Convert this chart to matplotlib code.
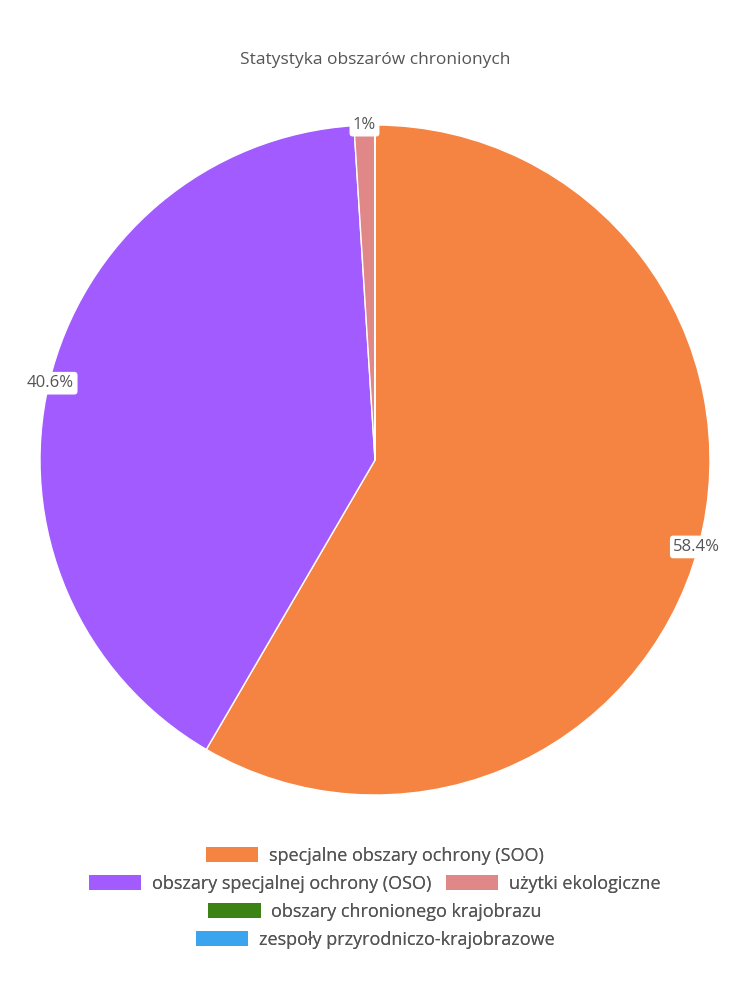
import matplotlib
matplotlib.use("Agg")
import matplotlib.pyplot as plt
import numpy as np
from matplotlib.patches import Patch

categories = ["specjalne obszary ochrony (SOO)", "obszary specjalnej ochrony (OSO)",
              "użytki ekologiczne", "obszary chronionego krajobrazu", "zespoły przyrodniczo-krajobrazowe"]
values = [58.4, 40.6, 1.0, 0.0, 0.0]
labels = ["58.4%", "40.6%", "1%", "", ""]
colors = ["#f58442", "#a15bfe", "#e08788", "#3c8214", "#3aa5ee"]

plt.rcParams['font.family'] = ['Open Sans', 'DejaVu Sans']
fig = plt.figure(figsize=(7.5, 10), dpi=100)
ax = fig.add_axes([0.5 - 335/750, 0.54 - 0.335, 670/750, 0.67])
wedges, _ = ax.pie(values, colors=colors, startangle=90, counterclock=False,
                   wedgeprops=dict(edgecolor="white", linewidth=1))
ax.set_xlim(-1, 1)
ax.set_ylim(-1, 1)
ax.set_aspect("equal")
for w, lab in zip(wedges, labels):
    if not lab:
        continue
    th = np.deg2rad((w.theta1 + w.theta2) / 2)
    r = 0.995 if lab != "1%" else 1.0
    ax.text(r*np.cos(th), r*np.sin(th), lab, ha="center", va="center", fontsize=12,
            color="#555555",
            bbox=dict(boxstyle="round,pad=0.2", fc="white", ec="none"))

fig.text(0.5, 1 - 60/1000, "Statystyka obszarów chronionych", ha="center", va="center",
         fontsize=12.5, color="#555555")

rows = [[0], [1, 2], [3], [4]]
ys = [856, 884, 912, 940]
for row, y in zip(rows, ys):
    handles = [Patch(facecolor=colors[i], edgecolor="none") for i in row]
    leg = fig.legend(handles, [categories[i] for i in row], loc="center",
                     bbox_to_anchor=(0.5, 1 - y/1000), ncol=len(row), frameon=False,
                     fontsize=13, handlelength=2.9, handleheight=0.9, columnspacing=0.8,
                     labelcolor="#555555", handletextpad=0.6)
    fig.add_artist(leg)

fig.savefig("out.png", dpi=100)
